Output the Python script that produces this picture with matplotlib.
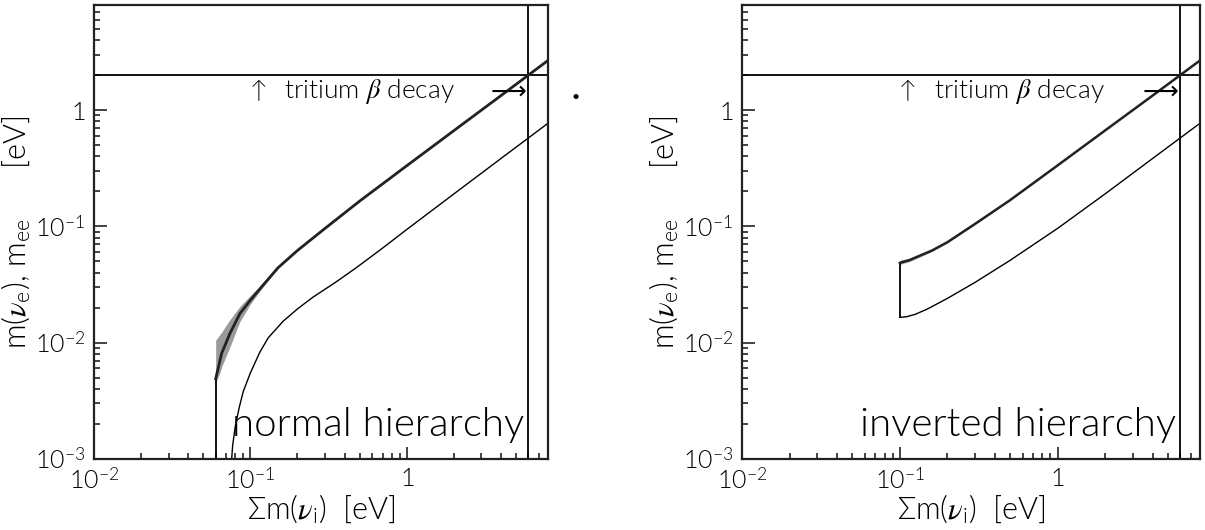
import numpy as np
import matplotlib
matplotlib.use("Agg")
import matplotlib.pyplot as plt
from matplotlib.ticker import LogLocator, NullFormatter, FixedLocator, FixedFormatter

plt.rcParams['font.family'] = ['Lato', 'DejaVu Sans']
plt.rcParams['mathtext.fontset'] = 'custom'
plt.rcParams['mathtext.rm'] = 'Lato:weight=300'
plt.rcParams['mathtext.it'] = 'STIXGeneral:italic'
plt.rcParams['mathtext.sf'] = 'Lato'
plt.rcParams['mathtext.bf'] = 'Lato:bold'
plt.rcParams['text.color'] = 'black'

LIGHT = 300

# limits / reference lines (eV)
x_lim = (0.01, 8.0)
y_lim = (1e-3, 8.0)
tritium_limit = 2.0
sum_limit = 6.0

# normal hierarchy, m(nu_e) curve
nh_x = [0.060, 0.0655, 0.074, 0.0857, 0.100, 0.120, 0.150, 0.200, 0.300, 0.500, 1.0, 2.0, 4.0, 8.0]
nh_mnue = [0.0049, 0.0081, 0.0120, 0.0178, 0.0232, 0.0310, 0.0440, 0.0620, 0.0960, 0.165, 0.332, 0.665, 1.33, 2.67]
# shaded band around it
nh_band_x = [0.060, 0.064, 0.0655, 0.074, 0.0857, 0.100, 0.120, 0.150]
nh_band_hi = [0.0105, 0.0118, 0.0123, 0.0158, 0.0205, 0.0255, 0.0325, 0.0450]
nh_band_lo = [0.0045, 0.0056, 0.0062, 0.0092, 0.0152, 0.0215, 0.0300, 0.0432]
# normal hierarchy, lower (m_ee) curve
nh_mee_x = [0.0759, 0.077, 0.080, 0.085, 0.090, 0.100, 0.115, 0.130, 0.162, 0.200, 0.250,
            0.350, 0.480, 0.700, 1.0, 2.0, 4.0, 8.0]
nh_mee = [0.0010, 0.0013, 0.0019, 0.0028, 0.0038, 0.0055, 0.0083, 0.0110, 0.0153, 0.0195, 0.0245,
          0.0330, 0.0445, 0.0650, 0.094, 0.190, 0.383, 0.77]

# inverted hierarchy
ih_x = [0.100, 0.105, 0.115, 0.130, 0.160, 0.200, 0.300, 0.500, 1.0, 2.0, 4.0, 8.0]
ih_mnue = [0.0485, 0.0495, 0.0512, 0.0550, 0.0620, 0.0730, 0.105, 0.168, 0.334, 0.667, 1.33, 2.67]
ih_band_hi = [0.0510, 0.0518, 0.0532, 0.0568, 0.0635, 0.0742, 0.106, 0.169, 0.335, 0.668, 1.33, 2.67]
ih_band_lo = [0.0470, 0.0480, 0.0497, 0.0536, 0.0608, 0.0720, 0.104, 0.167, 0.333, 0.666, 1.33, 2.67]
ih_mee_x = [0.100, 0.110, 0.125, 0.150, 0.200, 0.300, 0.500, 1.0, 2.0, 4.0, 8.0]
ih_mee = [0.0165, 0.0167, 0.0175, 0.0195, 0.0240, 0.0330, 0.0510, 0.096, 0.190, 0.383, 0.77]

x_ticks = [0.01, 0.1, 1.0]
x_ticklabels = ['$10^{-2}$', '$10^{-1}$', '$1$']
y_ticks = [1e-3, 1e-2, 1e-1, 1.0]
y_ticklabels = ['$10^{-3}$', '$10^{-2}$', '$10^{-1}$', '$1$']


def setup_axes(ax):
    ax.set_xscale('log')
    ax.set_yscale('log')
    ax.set_xlim(*x_lim)
    ax.set_ylim(*y_lim)
    ax.xaxis.set_major_locator(FixedLocator(x_ticks))
    ax.xaxis.set_major_formatter(FixedFormatter(x_ticklabels))
    ax.yaxis.set_major_locator(FixedLocator(y_ticks))
    ax.yaxis.set_major_formatter(FixedFormatter(y_ticklabels))
    ax.xaxis.set_minor_locator(LogLocator(base=10, subs=np.arange(2, 10)))
    ax.yaxis.set_minor_locator(LogLocator(base=10, subs=np.arange(2, 10)))
    ax.xaxis.set_minor_formatter(NullFormatter())
    ax.yaxis.set_minor_formatter(NullFormatter())
    ax.tick_params(which='both', direction='in', top=False, right=False, width=1.2, color='#222222')
    ax.tick_params(which='major', length=9, labelsize=18, pad=6, labelcolor='black')
    ax.tick_params(which='minor', length=4.5)
    for sp in ax.spines.values():
        sp.set_linewidth(1.6)
        sp.set_color('#222222')
    ax.axhline(tritium_limit, color='black', lw=1.3)
    ax.axvline(sum_limit, color='black', lw=1.3)
    # label under the tritium line
    ax.text(0.112, 1.45, u'\u2191', ha='center', va='center', fontsize=17, fontweight=LIGHT)
    ax.text(0.165, 1.45, u'tritium $\\beta$ decay', ha='left', va='center', fontsize=19, fontweight=LIGHT)
    ax.text(5.85, 1.45, u'\u27f6', ha='right', va='center', fontsize=18, family='DejaVu Sans')
    ax.set_xlabel(u'\u03a3m($\\nu_\\mathrm{i}$)  [eV]', fontsize=22, labelpad=-1, fontweight=LIGHT)
    ax.set_ylabel(u'm($\\nu_\\mathrm{e}$), m$_\\mathrm{ee}$      [eV]', fontsize=22, labelpad=2,
                  fontweight=LIGHT)


fig = plt.figure(figsize=(12.05, 5.3), dpi=100)
ax1 = fig.add_axes([0.078, 0.134, 0.3768, 0.8566])
ax2 = fig.add_axes([0.6158, 0.134, 0.3801, 0.8566])

# normal hierarchy
setup_axes(ax1)
ax1.fill_between(nh_band_x, nh_band_lo, nh_band_hi, color='#9a9a9a', lw=0)
ax1.plot([nh_x[0], nh_x[0]], [y_lim[0], nh_mnue[0]], color='black', lw=1.3)
ax1.plot(nh_x, nh_mnue, color='#222222', lw=2.0)
ax1.plot(nh_mee_x, nh_mee, color='black', lw=1.0)
ax1.text(5.6, 1.58e-3, 'normal hierarchy', ha='right', va='baseline', fontsize=29, fontweight=LIGHT)

# inverted hierarchy
setup_axes(ax2)
ax2.fill_between(ih_x, ih_band_lo, ih_band_hi, color='#9a9a9a', lw=0)
ax2.plot([ih_x[0], ih_x[0]], [ih_mee[0], ih_mnue[0]], color='black', lw=1.3)
ax2.plot(ih_x, ih_mnue, color='#222222', lw=1.8)
ax2.plot(ih_mee_x, ih_mee, color='black', lw=1.0)
ax2.text(5.6, 1.58e-3, 'inverted hierarchy', ha='right', va='baseline', fontsize=29, fontweight=LIGHT)

fig.text(0.478, 1 - 97 / 530., u'\u2022', ha='center', va='center', fontsize=10)

fig.savefig('out.png', dpi=100)
